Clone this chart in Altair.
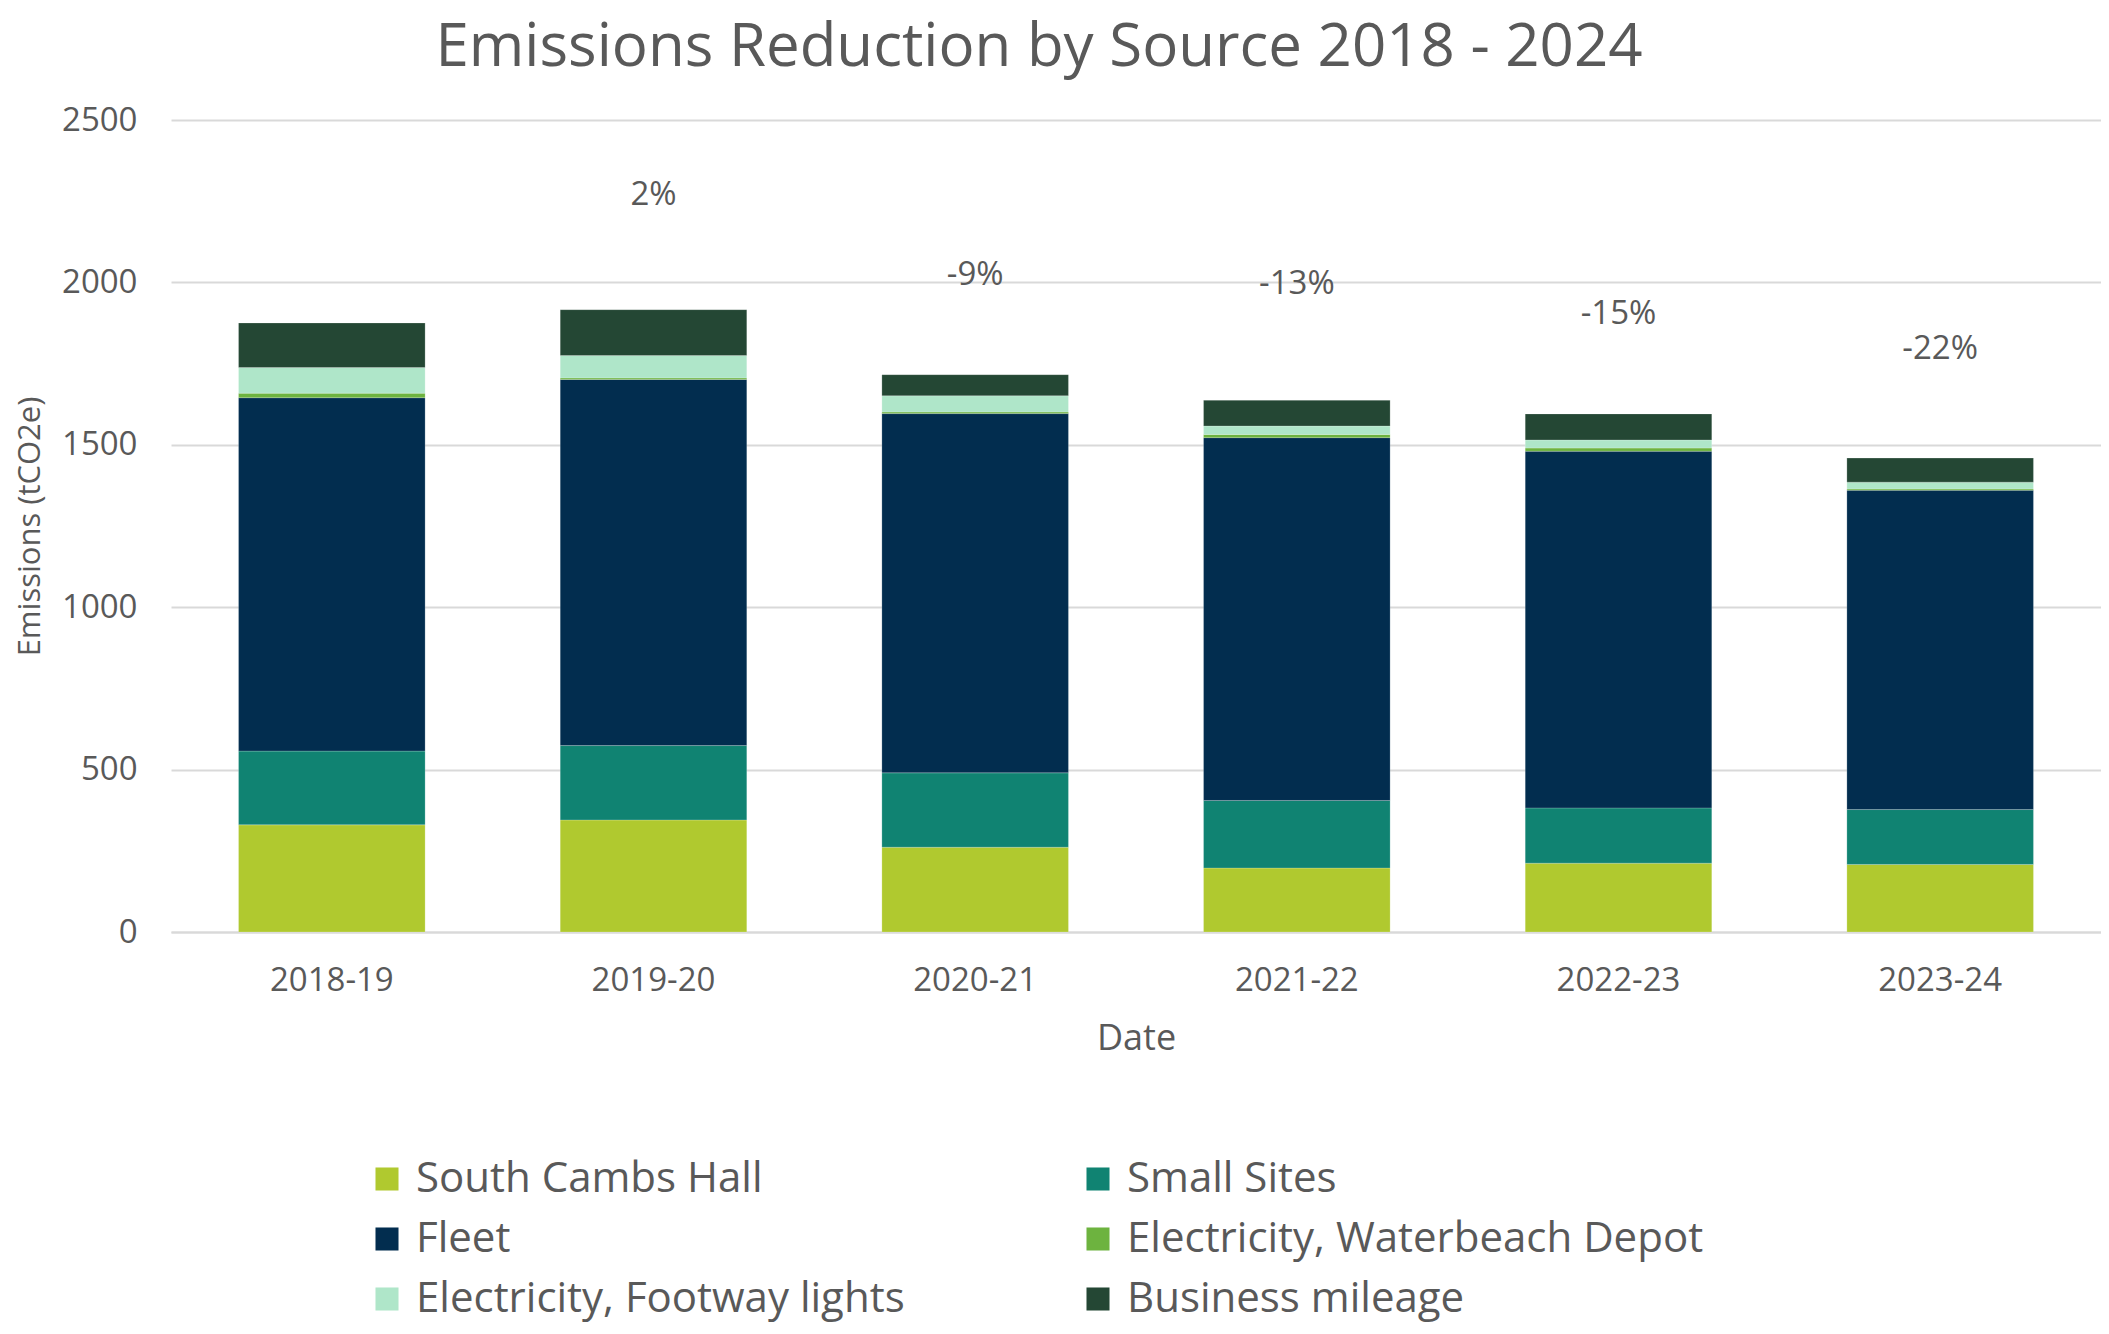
import altair as alt
import pandas as pd

years = ["2018-19", "2019-20", "2020-21", "2021-22", "2022-23", "2023-24"]
sources = ["South Cambs Hall", "Small Sites", "Fleet",
           "Electricity, Waterbeach Depot", "Electricity, Footway lights", "Business mileage"]
colors = ["#B0C92F", "#108372", "#022D4F", "#6DB33F", "#AFE6C9", "#244734"]

south_cambs = [330, 345, 261, 197, 212, 208]
small_sites = [227, 229, 229, 208, 170, 169]
fleet = [1088, 1127, 1106, 1117, 1098, 983]
waterbeach = [14, 5, 5, 10, 10, 4]
footway = [79, 69, 50, 26, 25, 21]
business = [137, 141, 65, 79, 80, 74]

change_years = ["2019-20", "2020-21", "2021-22", "2022-23", "2023-24"]
change_labels = ["2%", "-9%", "-13%", "-15%", "-22%"]
change_label_y = [2268, 2023, 1994, 1903, 1795]

series = [south_cambs, small_sites, fleet, waterbeach, footway, business]
rows = []
for k, (name, vals) in enumerate(zip(sources, series)):
    for y, v in zip(years, vals):
        rows.append({"Date": y, "Source": name, "Emissions": v, "order": k})
df = pd.DataFrame(rows)
lab = pd.DataFrame({"Date": change_years, "label": change_labels, "pos": change_label_y})

# legend is filled column by column: reorder so it reads row by row like the reference
legend_idx = [0, 2, 4, 1, 3, 5]
legend_domain = [sources[i] for i in legend_idx]
legend_range = [colors[i] for i in legend_idx]

FONT = "Open Sans"
GREY = "#595959"
yscale = alt.Scale(domain=[0, 2500], nice=False, zero=True)

x = alt.X("Date:N", sort=years, title="Date",
          scale=alt.Scale(paddingInner=0.42, paddingOuter=0.21),
          axis=alt.Axis(labelAngle=0, ticks=False, domain=True, domainColor="#D9D9D9",
                        domainWidth=2, labelFontSize=33, labelColor=GREY, labelFont=FONT,
                        labelPadding=32, titleFontSize=36, titleColor=GREY, titleFont=FONT,
                        titleFontWeight="normal", titlePadding=24))

bars = alt.Chart(df).mark_bar(stroke="#ffffff", strokeWidth=0.5, strokeOpacity=0.4).encode(
    x=x,
    y=alt.Y("Emissions:Q", stack="zero", title="Emissions (tCO2e)", scale=yscale,
            axis=alt.Axis(values=[0, 500, 1000, 1500, 2000, 2500], format="d", ticks=False,
                          domain=False, gridColor="#D9D9D9", gridWidth=2, labelFontSize=33,
                          labelColor=GREY, labelFont=FONT, labelPadding=34, titleFontSize=31,
                          titleColor=GREY, titleFont=FONT, titleFontWeight="normal",
                          titlePadding=15)),
    color=alt.Color("Source:N", scale=alt.Scale(domain=legend_domain, range=legend_range),
                    legend=alt.Legend(title=None, orient="none", legendX=195, legendY=1038,
                                      columns=2, columnPadding=172, rowPadding=18,
                                      symbolType="square", symbolSize=530, symbolStrokeWidth=0,
                                      labelFontSize=42, labelFont=FONT, labelColor=GREY,
                                      labelLimit=900, labelOffset=8, padding=0)),
    order=alt.Order("order:Q", sort="ascending"),
)

labels = alt.Chart(lab).mark_text(fontSize=33, font=FONT, color=GREY, baseline="middle").encode(
    x=alt.X("Date:N", sort=years),
    y=alt.Y("pos:Q", scale=yscale),
    text="label:N",
)

chart = alt.layer(bars, labels).properties(
    width=1930, height=812,
    title=alt.TitleParams("Emissions Reduction by Source 2018 - 2024", fontSize=60, font=FONT,
                          fontWeight="normal", color=GREY, anchor="middle", dx=-97, offset=25),
    autosize=alt.AutoSizeParams(type="none"),
    padding={"left": 163, "top": 112, "right": 0, "bottom": 394},
).configure_view(stroke=None)

chart.save("out.html", embed_options={"renderer": "svg", "actions": False})
